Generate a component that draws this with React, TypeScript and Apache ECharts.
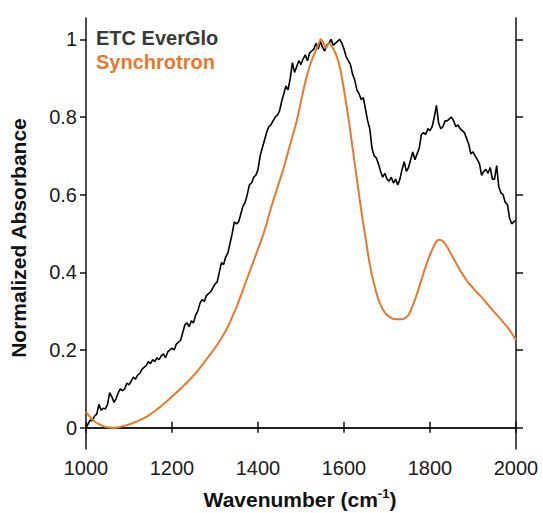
import React, { useEffect, useRef } from "react";
import * as echarts from "echarts";

const xTicks = [1000, 1200, 1400, 1600, 1800, 2000];
const yTicks = [0, 0.2, 0.4, 0.6, 0.8, 1];

const everGloX = [
  1000, 1005, 1010, 1015, 1020, 1025, 1030, 1035, 1040, 1045, 1050, 1055, 1060, 1065, 1070, 1075, 1080, 1085, 1090, 1095,
  1100, 1105, 1110, 1115, 1120, 1125, 1130, 1135, 1140, 1145, 1150, 1155, 1160, 1165, 1170, 1175, 1180, 1185, 1190, 1195,
  1200, 1205, 1210, 1215, 1220, 1225, 1230, 1235, 1240, 1245, 1250, 1255, 1260, 1265, 1270, 1275, 1280, 1285, 1290, 1295,
  1300, 1305, 1310, 1315, 1320, 1325, 1330, 1335, 1340, 1345, 1350, 1355, 1360, 1365, 1370, 1375, 1380, 1385, 1390, 1395,
  1400, 1405, 1410, 1415, 1420, 1425, 1430, 1435, 1440, 1445, 1450, 1455, 1460, 1465, 1470, 1475, 1480, 1485, 1490, 1495,
  1500, 1505, 1510, 1515, 1520, 1525, 1530, 1535, 1540, 1545, 1550, 1555, 1560, 1565, 1570, 1575, 1580, 1585, 1590, 1595,
  1600, 1605, 1610, 1615, 1620, 1625, 1630, 1635, 1640, 1645, 1650, 1655, 1660, 1665, 1670, 1675, 1680, 1685, 1690, 1695,
  1700, 1705, 1710, 1715, 1720, 1725, 1730, 1735, 1740, 1745, 1750, 1755, 1760, 1765, 1770, 1775, 1780, 1785, 1790, 1795,
  1800, 1805, 1810, 1815, 1820, 1825, 1830, 1835, 1840, 1845, 1850, 1855, 1860, 1865, 1870, 1875, 1880, 1885, 1890, 1895,
  1900, 1905, 1910, 1915, 1920, 1925, 1930, 1935, 1940, 1945, 1950, 1955, 1960, 1965, 1970, 1975, 1980, 1985, 1990, 1995,
  2000,
];
const everGloY = [
  0.0, 0.01, 0.02, 0.018, 0.03, 0.035, 0.06, 0.045, 0.05, 0.048, 0.06, 0.09, 0.08, 0.065, 0.075, 0.09, 0.1, 0.095, 0.1, 0.115,
  0.11, 0.12, 0.13, 0.125, 0.135, 0.14, 0.15, 0.155, 0.16, 0.17, 0.165, 0.175, 0.17, 0.18, 0.175, 0.185, 0.19, 0.18, 0.195, 0.2,
  0.205, 0.2, 0.215, 0.22, 0.225, 0.245, 0.265, 0.27, 0.26, 0.275, 0.27, 0.29, 0.3, 0.32, 0.33, 0.325, 0.34, 0.345, 0.35, 0.36,
  0.37, 0.375, 0.4, 0.425, 0.42, 0.44, 0.45, 0.475, 0.5, 0.53, 0.525, 0.53, 0.55, 0.57, 0.58, 0.6, 0.625, 0.63, 0.645, 0.65,
  0.665, 0.7, 0.72, 0.74, 0.76, 0.775, 0.78, 0.79, 0.8, 0.805, 0.815, 0.84, 0.86, 0.88, 0.87, 0.9, 0.94, 0.915, 0.93, 0.945,
  0.935, 0.95, 0.96, 0.945, 0.965, 0.97, 0.975, 0.99, 0.975, 0.995, 0.98, 0.97, 0.985, 0.99, 1.0, 0.985, 0.99, 0.995, 1.0, 0.99,
  0.975, 0.955, 0.945, 0.935, 0.91, 0.895, 0.87, 0.86, 0.845, 0.85, 0.82, 0.79, 0.77, 0.72, 0.7, 0.695, 0.68, 0.66, 0.645, 0.655,
  0.64, 0.635, 0.645, 0.63, 0.64, 0.625, 0.64, 0.665, 0.685, 0.66, 0.67, 0.69, 0.71, 0.69, 0.705, 0.72, 0.755, 0.76, 0.755, 0.77,
  0.765, 0.775, 0.8, 0.83, 0.785, 0.77, 0.775, 0.79, 0.79, 0.795, 0.8, 0.79, 0.775, 0.78, 0.77, 0.765, 0.76, 0.745, 0.73, 0.705,
  0.71, 0.7, 0.69, 0.68, 0.65, 0.66, 0.665, 0.655, 0.67, 0.64, 0.64, 0.675, 0.62, 0.605, 0.6, 0.58, 0.575, 0.54, 0.525, 0.53,
  0.535,
];

const synchrotronX = [
  1000, 1010, 1020, 1030, 1040, 1050, 1060, 1070, 1080, 1090, 1100, 1110, 1120, 1130, 1140, 1150, 1160, 1170, 1180, 1190,
  1200, 1210, 1220, 1230, 1240, 1250, 1260, 1270, 1280, 1290, 1300, 1310, 1320, 1330, 1340, 1350, 1360, 1370, 1380, 1390,
  1400, 1410, 1420, 1430, 1440, 1450, 1460, 1470, 1480, 1490, 1500, 1510, 1520, 1530, 1540, 1546, 1550, 1558, 1565, 1570,
  1580, 1590, 1600, 1610, 1620, 1630, 1640, 1650, 1660, 1670, 1680, 1690, 1700, 1710, 1720, 1730, 1740, 1750, 1760, 1770,
  1780, 1790, 1800, 1810, 1820, 1830, 1840, 1850, 1860, 1870, 1880, 1890, 1900, 1910, 1920, 1930, 1940, 1950, 1960, 1970,
  1980, 1990, 2000,
];
const synchrotronY = [
  0.04, 0.027, 0.016, 0.009, 0.004, 0.001, 0.0, 0.0, 0.002, 0.005, 0.008, 0.012, 0.017, 0.022, 0.028, 0.035, 0.043, 0.051, 0.06, 0.07,
  0.08, 0.09, 0.1, 0.111, 0.122, 0.134, 0.147, 0.161, 0.176, 0.19, 0.205, 0.222, 0.24, 0.26, 0.285, 0.31, 0.34, 0.37, 0.4, 0.43,
  0.46, 0.49, 0.525, 0.565, 0.6, 0.635, 0.67, 0.71, 0.75, 0.79, 0.84, 0.89, 0.93, 0.96, 0.985, 1.0, 0.995, 0.978, 0.99, 0.985,
  0.965, 0.93, 0.87, 0.8, 0.72, 0.64, 0.56, 0.49, 0.42, 0.37, 0.33, 0.305, 0.29, 0.282, 0.279, 0.279, 0.281, 0.29, 0.315, 0.345,
  0.38, 0.415, 0.445, 0.47, 0.484, 0.48, 0.465, 0.445, 0.425, 0.405, 0.388, 0.372, 0.36, 0.347, 0.336, 0.323, 0.31, 0.297, 0.285, 0.272,
  0.259, 0.243, 0.225,
];

const seriesNames = ["ETC EverGlo", "Synchrotron"];
const xTitle = "Wavenumber (cm";
const xTitleSup = "-1";
const yTitle = "Normalized Absorbance";

const FONT = "Liberation Sans, Arial, sans-serif";
const BLACK_COLOR = "#000000";
const ORANGE_COLOR = "#e8782c";

export default function App() {
  const ref = useRef<HTMLDivElement>(null);
  useEffect(() => {
    if (!ref.current) return;
    const chart = echarts.init(ref.current, undefined, { renderer: "svg" });
    const yMin = -0.055;
    const yMax = 1.055;
    const axisLine = { show: true, lineStyle: { color: "#111", width: 1.5 } };
    const option: any = {
      animation: false,
      backgroundColor: "#ffffff",
      grid: { left: 86, right: 27, top: 18, bottom: 64, containLabel: false },
      xAxis: [
        {
          type: "value",
          position: "bottom",
          min: xTicks[0],
          max: xTicks[xTicks.length - 1],
          interval: 200,
          axisLine,
          axisTick: { show: true, inside: false, length: 5, lineStyle: { color: "#111", width: 1.5 } },
          axisLabel: {
            show: true,
            margin: 9,
            fontSize: 20,
            color: "#1a1a1a",
            fontFamily: FONT,
            formatter: (v: number) => String(v),
          },
          splitLine: { show: false },
        },
        {
          type: "value",
          position: "top",
          min: xTicks[0],
          max: xTicks[xTicks.length - 1],
          interval: 200,
          axisLine,
          axisTick: { show: true, inside: false, length: 6, lineStyle: { color: "#111", width: 1.5 } },
          axisLabel: { show: false },
          splitLine: { show: false },
        },
      ],
      yAxis: [
        {
          type: "value",
          position: "left",
          min: yMin,
          max: yMax,
          axisLine,
          axisTick: { show: true, inside: false, length: 6, customValues: yTicks, lineStyle: { color: "#111", width: 1.5 } },
          axisLabel: {
            show: true,
            margin: 9,
            fontSize: 20,
            color: "#1a1a1a",
            fontFamily: FONT,
            customValues: yTicks,
            formatter: (v: number) => String(Math.round(v * 10) / 10),
          },
          splitLine: { show: false },
        },
        {
          type: "value",
          position: "right",
          min: yMin,
          max: yMax,
          axisLine,
          axisTick: { show: true, inside: false, length: 7, customValues: yTicks, lineStyle: { color: "#111", width: 1.5 } },
          axisLabel: { show: false, customValues: yTicks },
          splitLine: { show: false },
        },
      ],
      series: [
        {
          name: seriesNames[0],
          type: "line",
          xAxisIndex: 0,
          yAxisIndex: 0,
          data: everGloX.map((x, i) => [x, everGloY[i]]),
          showSymbol: false,
          symbol: "none",
          lineStyle: { color: BLACK_COLOR, width: 1.6 },
          z: 3,
        },
        {
          name: seriesNames[1],
          type: "line",
          xAxisIndex: 0,
          yAxisIndex: 0,
          data: synchrotronX.map((x, i) => [x, synchrotronY[i]]),
          showSymbol: false,
          symbol: "none",
          smooth: 0.3,
          lineStyle: { color: ORANGE_COLOR, width: 2 },
          z: 4,
        },
      ],
      graphic: [
        {
          type: "text",
          left: 96,
          top: 28,
          style: { text: seriesNames[0], fill: "#3a3a3a", font: `bold 20px ${FONT}` },
        },
        {
          type: "text",
          left: 96,
          top: 52,
          style: { text: seriesNames[1], fill: ORANGE_COLOR, font: `bold 20px ${FONT}` },
        },
        {
          type: "text",
          x: 300,
          y: 499,
          style: {
            text: `{a|${xTitle}}{s|${xTitleSup}}{a|)}`,
            align: "center",
            verticalAlign: "middle",
            rich: {
              a: { fontSize: 21, fontWeight: "bold", fontFamily: FONT, fill: "#111", lineHeight: 24 },
              s: { fontSize: 13, fontWeight: "bold", fontFamily: FONT, fill: "#111", lineHeight: 13, verticalAlign: "top" },
            },
          },
        },
        {
          type: "text",
          x: 18,
          y: 238,
          rotation: Math.PI / 2,
          style: {
            text: yTitle,
            align: "center",
            verticalAlign: "middle",
            fill: "#111",
            font: `bold 21px ${FONT}`,
          },
        },
      ],
    };
    chart.setOption(option);
    return () => chart.dispose();
  }, []);
  return <div ref={ref} style={{ width: 543, height: 513, position: "absolute", left: 0, top: 0 }} />;
}
